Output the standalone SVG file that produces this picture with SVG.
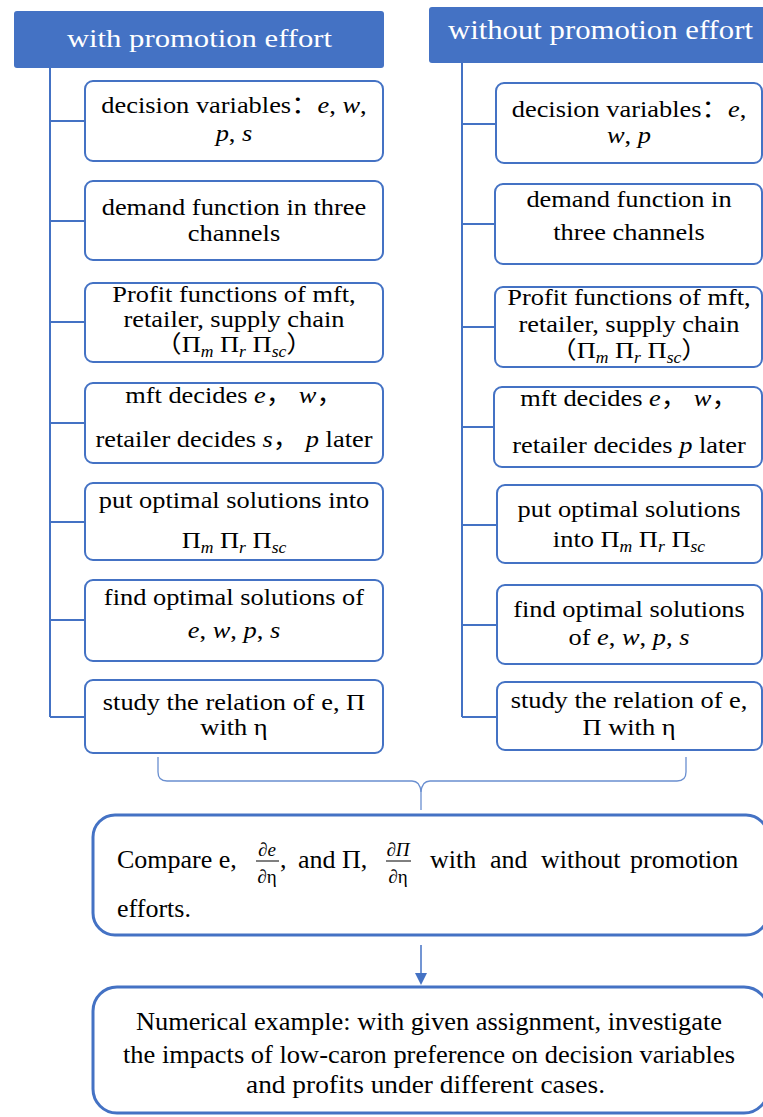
<svg xmlns="http://www.w3.org/2000/svg" width="763" height="1117" viewBox="0 0 763 1117">
<style>
.hdr{fill:#4472C4;stroke:none}
.hdrt{font-family:"Liberation Serif","Times New Roman",serif;fill:#fff;text-anchor:middle}
.box{fill:#fff;stroke:#4472C4;stroke-width:2}
.big{fill:#fff;stroke:#4472C4;stroke-width:3}
.t{font-family:"Liberation Serif","Times New Roman","Noto Sans CJK SC",serif;font-size:24px;fill:#000;text-anchor:middle}
.ts{font-family:"Liberation Serif","Times New Roman",serif;font-size:26px;fill:#000}
.m{font-style:italic}
.sub{font-style:italic;font-size:16px}
.fr{font-family:"Liberation Serif","Times New Roman",serif;font-size:19px;fill:#000;text-anchor:middle}
.tree{fill:none;stroke:#4472C4;stroke-width:2}
.brace{fill:none;stroke:#6A8FD0;stroke-width:1.3}
</style>

<g id="connectors">
<path class="tree" d="M50,68 V717 M50,121 H85 M50,221 H85 M50,322 H85 M50,423 H85 M50,522 H85 M50,620 H85 M50,717 H85"/>
<path class="tree" d="M462,63 V717 M462,124 H496 M462,224 H495 M462,327 H495 M462,427 H494 M462,525 H497 M462,625 H497 M462,717 H497"/>
<path class="brace" d="M158,757 V772 Q158,781 167,781 H412 Q420,781 421,792 V810"/>
<path class="brace" d="M686,757 V772 Q686,781 677,781 H430 Q422,781 421,792"/>
<path d="M421,945 V974" stroke="#4472C4" stroke-width="1.5"/>
<path d="M415,973 L427,973 L421,985 Z" fill="#4472C4"/>
</g>

<g id="hdr-with">
<rect class="hdr" x="14" y="11" width="370" height="57" rx="3"/>
<text class="hdrt" x="199.5" y="47" font-size="26" transform="matrix(1.18 0 0 1 -35.9 0)">with promotion effort</text>
</g>
<g id="hdr-without">
<rect class="hdr" x="429" y="7" width="340" height="56" rx="3"/>
<text class="hdrt" x="600.5" y="39" font-size="26.5" transform="matrix(1.16 0 0 1 -96.1 0)">without promotion effort</text>
</g>

<g id="L1">
<rect class="box" x="85" y="81" width="298" height="80" rx="8"/>
<g transform="matrix(1.1 0 0 1 -23.4 0)">
<text class="t" x="234" y="113">decision variables：<tspan class="m">e</tspan>, <tspan class="m">w</tspan>,</text>
<text class="t" x="234" y="141"><tspan class="m">p</tspan>, <tspan class="m">s</tspan></text>
</g>
</g>
<g id="L2">
<rect class="box" x="85" y="181" width="298" height="79" rx="8"/>
<g transform="matrix(1.1 0 0 1 -23.4 0)">
<text class="t" x="234" y="215">demand function in three</text>
<text class="t" x="234" y="241">channels</text>
</g>
</g>
<g id="L3">
<rect class="box" x="85" y="283" width="298" height="79" rx="8"/>
<g transform="matrix(1.1 0 0 1 -23.4 0)">
<text class="t" x="234" y="302">Profit functions of mft,</text>
<text class="t" x="234" y="327">retailer, supply chain</text>
<text class="t" x="234" y="352">（Π<tspan class="sub" dy="5">m</tspan><tspan dy="-5"> Π</tspan><tspan class="sub" dy="5">r</tspan><tspan dy="-5"> Π</tspan><tspan class="sub" dy="5">sc</tspan><tspan dy="-5">）</tspan></text>
</g>
</g>
<g id="L4">
<rect class="box" x="85" y="383" width="298" height="80" rx="8"/>
<g transform="matrix(1.1 0 0 1 -23.4 0)">
<text class="t" x="234" y="403">mft decides <tspan class="m">e</tspan>， <tspan class="m">w</tspan>，</text>
<text class="t" x="234" y="447">retailer decides <tspan class="m">s</tspan>， <tspan class="m">p</tspan> later</text>
</g>
</g>
<g id="L5">
<rect class="box" x="85" y="483" width="298" height="77" rx="8"/>
<g transform="matrix(1.1 0 0 1 -23.4 0)">
<text class="t" x="234" y="508">put optimal solutions into</text>
<text class="t" x="234" y="548">Π<tspan class="sub" dy="5">m</tspan><tspan dy="-5"> Π</tspan><tspan class="sub" dy="5">r</tspan><tspan dy="-5"> Π</tspan><tspan class="sub" dy="5">sc</tspan></text>
</g>
</g>
<g id="L6">
<rect class="box" x="85" y="580" width="298" height="81" rx="8"/>
<g transform="matrix(1.1 0 0 1 -23.4 0)">
<text class="t" x="234" y="605">find optimal solutions of</text>
<text class="t" x="234" y="638"><tspan class="m">e</tspan>,  <tspan class="m">w</tspan>,  <tspan class="m">p</tspan>,  <tspan class="m">s</tspan></text>
</g>
</g>
<g id="L7">
<rect class="box" x="85" y="680" width="298" height="73" rx="8"/>
<g transform="matrix(1.1 0 0 1 -23.4 0)">
<text class="t" x="234" y="710">study the relation of e, Π</text>
<text class="t" x="234" y="735">with η</text>
</g>
</g>

<g id="R1">
<rect class="box" x="496" y="83" width="266" height="80" rx="8"/>
<g transform="matrix(1.1 0 0 1 -62.9 0)">
<text class="t" x="629" y="117">decision variables：<tspan class="m">e</tspan>,</text>
<text class="t" x="629" y="143"><tspan class="m">w</tspan>, <tspan class="m">p</tspan></text>
</g>
</g>
<g id="R2">
<rect class="box" x="495" y="184" width="267" height="80" rx="8"/>
<g transform="matrix(1.1 0 0 1 -62.9 0)">
<text class="t" x="629" y="207">demand function in</text>
<text class="t" x="629" y="240">three channels</text>
</g>
</g>
<g id="R3">
<rect class="box" x="495" y="287" width="267" height="80" rx="8"/>
<g transform="matrix(1.1 0 0 1 -62.9 0)">
<text class="t" x="629" y="305">Profit functions of mft,</text>
<text class="t" x="629" y="332">retailer, supply chain</text>
<text class="t" x="629" y="358">（Π<tspan class="sub" dy="5">m</tspan><tspan dy="-5"> Π</tspan><tspan class="sub" dy="5">r</tspan><tspan dy="-5"> Π</tspan><tspan class="sub" dy="5">sc</tspan><tspan dy="-5">）</tspan></text>
</g>
</g>
<g id="R4">
<rect class="box" x="494" y="387" width="268" height="80" rx="8"/>
<g transform="matrix(1.1 0 0 1 -62.9 0)">
<text class="t" x="629" y="406">mft decides <tspan class="m">e</tspan>， <tspan class="m">w</tspan>，</text>
<text class="t" x="629" y="453">retailer decides <tspan class="m">p</tspan> later</text>
</g>
</g>
<g id="R5">
<rect class="box" x="497" y="485" width="265" height="78" rx="8"/>
<g transform="matrix(1.1 0 0 1 -62.9 0)">
<text class="t" x="629" y="517">put optimal solutions</text>
<text class="t" x="629" y="547">into Π<tspan class="sub" dy="5">m</tspan><tspan dy="-5"> Π</tspan><tspan class="sub" dy="5">r</tspan><tspan dy="-5"> Π</tspan><tspan class="sub" dy="5">sc</tspan></text>
</g>
</g>
<g id="R6">
<rect class="box" x="497" y="585" width="265" height="79" rx="8"/>
<g transform="matrix(1.1 0 0 1 -62.9 0)">
<text class="t" x="629" y="617">find optimal solutions</text>
<text class="t" x="629" y="645">of  <tspan class="m">e</tspan>,  <tspan class="m">w</tspan>,  <tspan class="m">p</tspan>,  <tspan class="m">s</tspan></text>
</g>
</g>
<g id="R7">
<rect class="box" x="497" y="682" width="265" height="68" rx="8"/>
<g transform="matrix(1.1 0 0 1 -62.9 0)">
<text class="t" x="629" y="708">study the relation of e,</text>
<text class="t" x="629" y="735">Π with η</text>
</g>
</g>

<g id="compare">
<rect class="big" x="93" y="815" width="675" height="120" rx="22"/>
<text class="ts" x="117" y="868">Compare e,</text>
<text class="fr" x="267" y="856">∂<tspan class="m">e</tspan></text>
<line x1="256" y1="861" x2="279" y2="861" stroke="#000" stroke-width="1"/>
<text class="fr" x="267" y="883">∂η</text>
<text class="ts" x="280" y="868">,</text>
<text class="ts" x="298" y="868">and Π,</text>
<text class="fr" x="398" y="856">∂<tspan class="m">Π</tspan></text>
<line x1="386" y1="861" x2="411" y2="861" stroke="#000" stroke-width="1"/>
<text class="fr" x="398" y="883">∂η</text>
<text class="ts" x="430" y="868">with</text>
<text class="ts" x="490" y="868">and</text>
<text class="ts" x="541" y="868">without</text>
<text class="ts" x="630" y="868">promotion</text>
<text class="ts" x="117" y="917">efforts.</text>
</g>

<g id="numerical">
<rect class="big" x="93" y="987" width="675" height="126" rx="24"/>
<text class="ts" font-size="25" x="136" y="1030" textLength="586" lengthAdjust="spacingAndGlyphs">Numerical example: with given assignment, investigate</text>
<text class="ts" font-size="25" x="123" y="1063" textLength="612" lengthAdjust="spacingAndGlyphs">the impacts of low-caron preference on decision variables</text>
<text class="ts" font-size="25" x="246" y="1093" textLength="359" lengthAdjust="spacingAndGlyphs">and profits under different cases.</text>
</g>
</svg>
